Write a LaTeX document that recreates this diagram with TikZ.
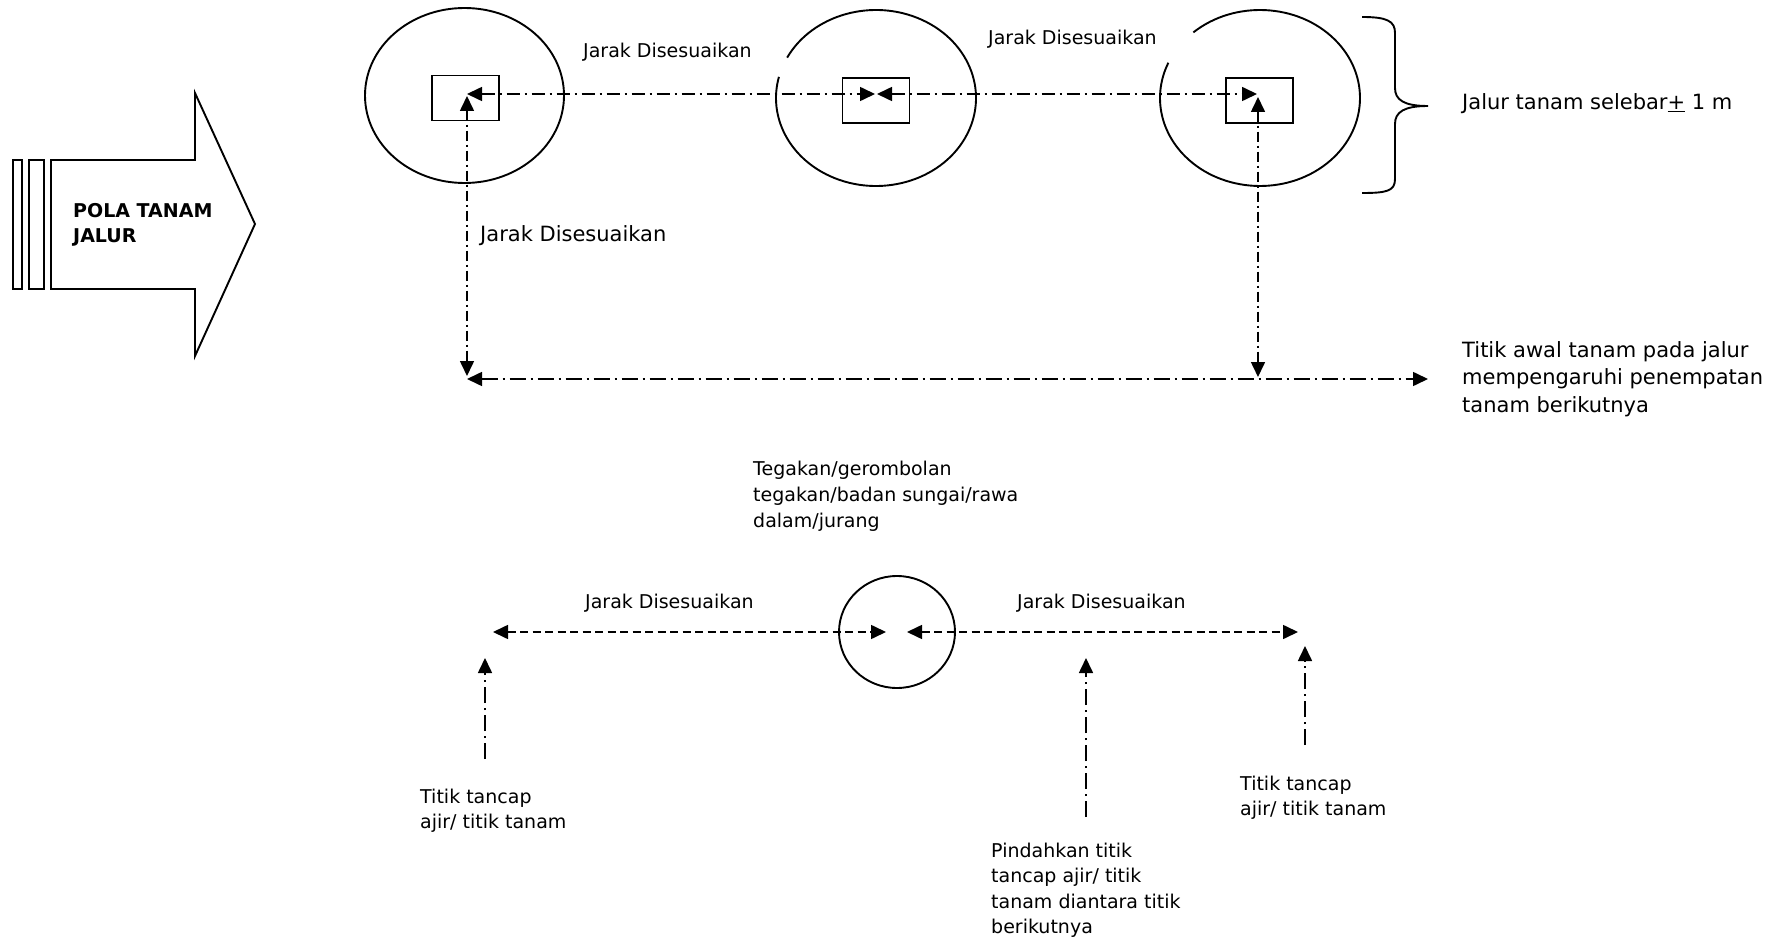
\documentclass[tikz,border=0pt]{standalone}
\usepackage{fontspec}
\setmainfont{DejaVu Sans}
\usetikzlibrary{arrows.meta,shapes.geometric}
\begin{document}
\begin{tikzpicture}[x=1pt, y=-1pt, >={Triangle[length=15pt,width=14pt]},
    txt/.style={anchor=base west, align=left, inner sep=0pt, font=\fontsize{19}{25.5}\selectfont},
    bigtxt/.style={txt, font=\fontsize{21}{27.5}\selectfont},
    rim/.style={line width=1.9pt},
    bed/.style={draw, rim, rectangle, minimum width=67pt, minimum height=45pt, inner sep=0pt},
    dashdot/.style={line width=1.6pt, dash pattern=on 13pt off 5pt on 2pt off 5pt},
    longdashdot/.style={line width=1.6pt, dash pattern=on 16pt off 5pt on 2pt off 5pt},
    vdashdot/.style={line width=1.6pt, dash pattern=on 10pt off 4pt on 2pt off 4pt},
    dashline/.style={line width=1.6pt, dash pattern=on 8pt off 4.5pt}]
\useasboundingbox (0,0) rectangle (1778,941);

\draw[rim] (13,160) rectangle (22,289);
\draw[rim] (29,160) rectangle (44,289);
\draw[rim] (51,160) -- (195,160) -- (195,93) -- (255,224) -- (195,356) -- (195,289) -- (51,289) -- cycle;
\node[txt, font=\fontsize{19}{25}\selectfont\bfseries] (pola) at (73,243) {POLA TANAM\\JALUR};

\node[bed] (r1) at (465.5,98) {};
\node[bed] (r2) at (876,100.5) {};
\node[bed] (r3) at (1259.5,100.5) {};
\draw[rim] (464.5,95.5) ellipse [x radius=99.5, y radius=87.5];
\draw[rim] (876,98) ++(207.3:100 and 88) arc[start angle=207.3, end angle=553.9, x radius=100, y radius=88];
\draw[rim] (1260,98) ++(228.2:100 and 88) arc[start angle=228.2, end angle=563.6, x radius=100, y radius=88];
\draw[rim] (1362,17) .. controls (1387,17) and (1395,21) .. (1395,33) -- (1395,88)
    .. controls (1395,100) and (1404,106) .. (1428,106)
    .. controls (1404,106) and (1395,112) .. (1395,124) -- (1395,179)
    .. controls (1395,191) and (1387,193) .. (1362,193);

\coordinate (p1) at (467,94);
\coordinate (p2) at (875,94);
\coordinate (p3) at (877,94);
\coordinate (p4) at (1257,94);
\coordinate (q1) at (467,96);
\coordinate (q2) at (467,376);
\coordinate (q3) at (1258,97);
\coordinate (q4) at (1258,377);
\coordinate (s1) at (467,379);
\coordinate (s2) at (1428,379);
\draw[dashdot, <->] (p1) -- (p2);
\draw[dashdot, <->] (p3) -- (p4);
\draw[vdashdot, <->] (q1) -- (q2);
\draw[vdashdot, <->] (q3) -- (q4);
\draw[longdashdot, <->] (s1) -- (s2);

\node[txt] (jarak1) at (583,58) {Jarak Disesuaikan};
\node[txt] (jarak2) at (988,45) {Jarak Disesuaikan};
\node[bigtxt] (jarak3) at (480,242) {Jarak Disesuaikan};
\node[bigtxt] (lebar) at (1462,110) {Jalur tanam selebar\underline{+} 1 m};
\node[bigtxt] (awal) at (1462,412) {Titik awal tanam pada jalur\\mempengaruhi penempatan\\tanam berikutnya};

\node[draw, rim, ellipse, minimum width=116pt, minimum height=112pt, inner sep=0pt] (rawa) at (897,632) {};
\coordinate (u1) at (493,632);
\coordinate (u2) at (886,632);
\coordinate (u3) at (907,632);
\coordinate (u4) at (1298,632);
\draw[dashline, <->] (u1) -- (u2);
\draw[dashline, <->] (u3) -- (u4);
\coordinate (w1) at (485,759);
\coordinate (w2) at (485,658);
\coordinate (w3) at (1086,817);
\coordinate (w4) at (1086,658);
\coordinate (w5) at (1305,745);
\coordinate (w6) at (1305,646);
\draw[longdashdot, ->] (w1) -- (w2);
\draw[longdashdot, ->] (w3) -- (w4);
\draw[longdashdot, ->] (w5) -- (w6);

\node[txt] (jarak4) at (585,608) {Jarak Disesuaikan};
\node[txt] (jarak5) at (1017,608) {Jarak Disesuaikan};
\node[txt, font=\fontsize{19}{26}\selectfont] (tegakan) at (753,527) {Tegakan/gerombolan\\tegakan/badan sungai/rawa\\dalam/jurang};
\node[txt, font=\fontsize{19}{25}\selectfont] (tancap1) at (420,828) {Titik tancap\\ajir/ titik tanam};
\node[txt, font=\fontsize{19}{25}\selectfont] (tancap2) at (1240,815) {Titik tancap\\ajir/ titik tanam};
\node[txt] (pindah) at (991,933.5) {Pindahkan titik\\tancap ajir/ titik\\tanam diantara titik\\berikutnya};
\end{tikzpicture}
\end{document}
